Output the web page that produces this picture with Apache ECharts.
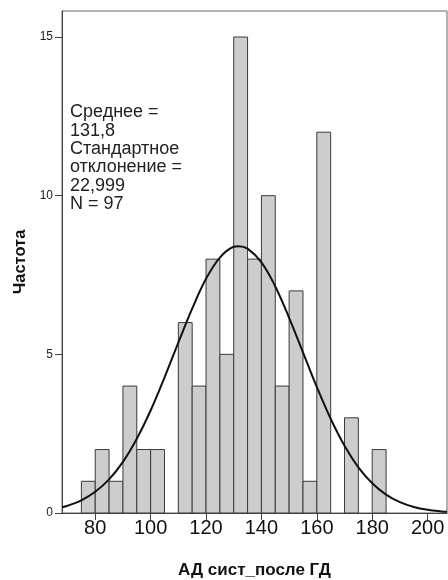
<!DOCTYPE html>
<html>
<head>
<meta charset="utf-8">
<script src="https://cdn.jsdelivr.net/npm/echarts@6/dist/echarts.min.js"></script>
<style>html,body{margin:0;padding:0;background:#fff}#c{width:448px;height:580px}</style>
</head>
<body>
<div id="c"></div>
<script>
// Histogram bins (start of each 5-unit bin) and counts
const binStarts = [75, 80, 85, 90, 95, 100, 105, 110, 115, 120, 125, 130, 135, 140, 145, 150, 155, 160, 165, 170, 175, 180];
const counts    = [1, 2, 1, 4, 2, 2, 0, 6, 4, 8, 5, 15, 8, 10, 4, 7, 1, 12, 0, 3, 0, 2];
const binWidth = 5;
// Normal curve points
const curveX = [68, 70, 75, 80, 85, 90, 95, 100, 105, 110, 115, 120, 125, 130, 131.8, 135, 140, 145, 150, 155, 160, 165, 170, 175, 180, 185, 190, 195, 200, 205, 207];
const curveY = [0.18, 0.23, 0.40, 0.67, 1.06, 1.61, 2.34, 3.23, 4.27, 5.37, 6.44, 7.38, 8.05, 8.39, 8.41, 8.33, 7.90, 7.14, 6.15, 5.06, 3.97, 2.97, 2.12, 1.44, 0.94, 0.58, 0.34, 0.19, 0.10, 0.05, 0.04];
const xTicks = [80, 100, 120, 140, 160, 180, 200];
const yTicks = [0, 5, 10, 15];
const statsLines = ['Среднее =', '131,8', 'Стандартное', 'отклонение =', '22,999', 'N = 97'];

const chart = echarts.init(document.getElementById('c'), null, {renderer: 'canvas'});
const font = 'Arial, "Liberation Sans", sans-serif';
const barData = binStarts.map((s, i) => [s, s + binWidth, counts[i]]).filter(d => d[2] > 0);
chart.setOption({
  animation: false,
  backgroundColor: '#fff',
  title: {
    text: statsLines.join('\n'),
    left: 70, top: 103, padding: 0,
    textStyle: {fontFamily: font, fontSize: 18, fontWeight: 'normal', color: '#222', lineHeight: 18.4}
  },
  grid: {left: 62, right: 1, top: 11, bottom: 67, show: true, borderColor: '#666', borderWidth: 1, backgroundColor: 'transparent', containLabel: false, outerBoundsMode: 'none'},
  xAxis: {
    type: 'value', min: 68, max: 207,
    name: 'АД сист_после ГД', nameLocation: 'middle', nameGap: 49,
    nameTextStyle: {fontFamily: font, fontSize: 17, fontWeight: 'bold', color: '#111'},
    axisLine: {show: true, onZero: false, lineStyle: {color: '#444', width: 1}},
    axisTick: {show: true, length: 7, customValues: xTicks, lineStyle: {color: '#444'}},
    axisLabel: {customValues: xTicks, fontFamily: font, fontSize: 20, color: '#111', margin: 5},
    splitLine: {show: false}
  },
  yAxis: {
    type: 'value', min: 0, max: 15.82,
    name: 'Частота', nameLocation: 'middle', nameGap: 32, nameRotate: 90,
    nameTextStyle: {fontFamily: font, fontSize: 16.5, fontWeight: 'bold', color: '#111'},
    axisLine: {show: true, lineStyle: {color: '#444', width: 1}},
    axisTick: {show: true, length: 7, customValues: yTicks, lineStyle: {color: '#444'}},
    axisLabel: {customValues: yTicks, fontFamily: font, fontSize: 12, color: '#222', margin: 9},
    splitLine: {show: false}
  },
  series: [
    {
      type: 'custom',
      data: barData,
      encode: {x: [0, 1], y: 2},
      renderItem: function (params, api) {
        const p0 = api.coord([api.value(0), 0]);
        const p1 = api.coord([api.value(1), api.value(2)]);
        return {
          type: 'rect',
          shape: {x: p0[0], y: p1[1], width: p1[0] - p0[0], height: p0[1] - p1[1]},
          style: {fill: '#cdcdcd', stroke: '#3a3a3a', lineWidth: 1}
        };
      },
      z: 2
    },
    {
      type: 'line',
      data: curveX.map((x, i) => [x, curveY[i]]),
      smooth: 0.4,
      showSymbol: false,
      symbol: 'none',
      lineStyle: {color: '#111', width: 2},
      z: 3
    }
  ]
});
</script>
</body>
</html>
